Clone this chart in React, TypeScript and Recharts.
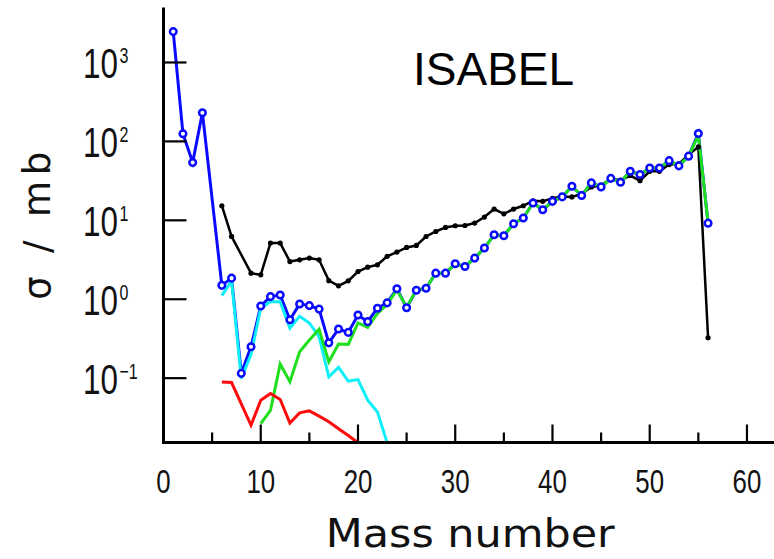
import React from "react";
import { LineChart, Line, XAxis, YAxis } from "recharts";

// mass number / cross section (mb)
const totalA = [1, 2, 3, 4, 6, 7, 8, 9, 10, 11, 12, 13, 14, 15, 16, 17, 18, 19, 20, 21, 22, 23, 24, 25, 26, 27, 28, 29, 30, 31, 32, 33, 34, 35, 36, 37, 38, 39, 40, 41, 42, 43, 44, 45, 46, 47, 48, 49, 50, 51, 52, 53, 54, 55, 56];
const totalV = [2460, 125, 54, 231, 1.5, 1.85, 0.115, 0.25, 0.82, 1.08, 1.13, 0.55, 0.87, 0.83, 0.75, 0.28, 0.42, 0.38, 0.63, 0.52, 0.77, 0.9, 1.36, 0.78, 1.3, 1.38, 2.14, 2.14, 2.81, 2.6, 3.32, 4.45, 6.56, 6.37, 9.05, 10.7, 16.6, 13.6, 17.4, 19.8, 27, 20.6, 29.8, 26.5, 34, 30.3, 41.9, 38, 46, 46, 57, 49, 65, 126, 9.2];

const expA = [6, 7, 9, 10, 11, 12, 13, 14, 15, 16, 17, 18, 19, 20, 21, 22, 23, 24, 25, 26, 27, 28, 29, 30, 31, 32, 33, 34, 35, 36, 37, 38, 39, 40, 41, 42, 43, 44, 45, 46, 47, 48, 49, 50, 51, 52, 53, 54, 55, 56];
const expV = [15.3, 6.25, 2.14, 2.04, 5.15, 5.15, 3.0, 3.16, 3.32, 3.16, 1.72, 1.48, 1.71, 2.24, 2.55, 2.73, 3.5, 3.96, 4.53, 4.8, 6.24, 7.22, 8.13, 8.53, 8.6, 9.24, 11.0, 13.9, 12.1, 13.9, 15.3, 17.7, 17.4, 19.0, 20.1, 19.8, 21.6, 26.5, 27.5, 33.5, 32.3, 36.9, 31.8, 41.8, 41.8, 50.9, 52, 68, 85, 0.325];

const greenA = [10, 11, 12, 13, 14, 15, 16, 17, 18, 19, 20, 21, 22, 23, 24, 25, 26, 27, 28, 29, 30, 31, 32, 33, 34, 35, 36, 37, 38, 39, 40, 41, 42, 43, 44, 45, 46, 47, 48, 49, 50, 51, 52, 53, 54, 55, 56];
const greenV = [0.0266, 0.039, 0.151, 0.09, 0.216, 0.304, 0.416, 0.161, 0.27, 0.268, 0.5, 0.44, 0.66, 0.86, 1.31, 0.8, 1.3, 1.38, 2.14, 2.14, 2.81, 2.6, 3.32, 4.45, 6.56, 6.37, 9.05, 10.7, 16.6, 13.6, 17.4, 19.8, 27, 20.6, 29.8, 26.5, 34, 30.3, 41.9, 38, 46, 46, 57, 49, 65, 120, 9.2];

const cyanA = [6, 7, 8, 9, 10, 11, 12, 13, 14, 15, 16, 17, 18, 19, 20, 21, 22, 23];
const cyanV = [1.11, 1.71, 0.099, 0.2, 0.77, 0.93, 0.93, 0.43, 0.61, 0.5, 0.335, 0.104, 0.137, 0.092, 0.096, 0.0525, 0.0373, 0.0152];

const redA = [6, 7, 9, 10, 11, 12, 13, 14, 15, 16, 17, 18, 19, 20];
const redV = [0.0897, 0.088, 0.0253, 0.0525, 0.0638, 0.0537, 0.027, 0.0363, 0.0385, 0.033, 0.028, 0.0229, 0.0188, 0.0152];

const xTicks = [0, 5, 10, 15, 20, 25, 30, 35, 40, 45, 50, 55, 60];
const yTicks = [0.1, 1, 10, 100, 1000];
const yExp = ["\u22121", "0", "1", "2", "3"];

const zip = (a: number[], v: number[]) => a.map((x, i) => ({ a: x, v: v[i] }));
const total = zip(totalA, totalV);
const exp = zip(expA, expV);
const green = zip(greenA, greenV);
const cyan = zip(cyanA, cyanV);
const red = zip(redA, redV);

const FONT = "'Liberation Sans', Arial, sans-serif";

const BottomTick = ({ x, y, payload }: any) => {
  const major = payload.value % 10 === 0;
  return (
    <g>
      <line x1={x} x2={x} y1={y} y2={y - (major ? 18 : 10)} stroke="#000" strokeWidth={2.2} />
      {major && (
        <text transform={`translate(${x},${y + 50.5}) scale(0.76,1)`} textAnchor="middle" fontSize={34} fontFamily={FONT} fill="#111">
          {payload.value}
        </text>
      )}
    </g>
  );
};

const TopTick = ({ x, y, payload }: any) => {
  const major = payload.value % 10 === 0;
  return <line x1={x} x2={x} y1={y} y2={y + (major ? 18 : 10)} stroke="#000" strokeWidth={2.2} />;
};

const LeftTick = ({ x, y, payload }: any) => {
  const i = yTicks.indexOf(payload.value);
  return (
    <g>
      <line x1={x} x2={x + 23} y1={y} y2={y} stroke="#000" strokeWidth={2.2} />
      <g transform={`translate(${x - 80.5},${y + 15.5}) scale(0.73,1)`} fontFamily={FONT} fill="#111">
        <text x={0} y={0} fontSize={43}>10</text>
        <text x={50} y={-15} fontSize={22}>{yExp[i]}</text>
      </g>
    </g>
  );
};

const RightTick = ({ x, y }: any) => (
  <line x1={x} x2={x - 23} y1={y} y2={y} stroke="#000" strokeWidth={2.2} />
);

const XTitle = ({ viewBox }: any) => (
  <text transform={`translate(${viewBox.x + viewBox.width / 2 - 2},${viewBox.y + 104.5}) scale(1.1,1)`}
    textAnchor="middle" fontSize={39} fontFamily="'DejaVu Sans', sans-serif" fill="#111">
    Mass number
  </text>
);

const YTitle = ({ viewBox }: any) => {
  const cy = viewBox.y + viewBox.height / 2;
  return (
    <text transform={`translate(50,${cy}) rotate(-90)`} textAnchor="middle" fontSize={37}
      fontFamily="'DejaVu Sans', sans-serif" textLength={148} lengthAdjust="spacing" fill="#111">
      σ / mb
    </text>
  );
};

const axisLine = { stroke: "#000", strokeWidth: 3, strokeLinecap: "square" as const };

export default function App() {
  return (
    <div style={{ position: "absolute", left: 0, top: 0, width: 774, height: 559, overflow: "hidden", background: "#fff" }}>
      <LineChart width={800} height={559} margin={{ top: 9, right: 19, bottom: 0, left: 0 }}>
        <XAxis xAxisId="b" dataKey="a" type="number" domain={[0, 63.5]} allowDataOverflow ticks={xTicks} interval={0}
          height={116.5} tickSize={0} tickMargin={0} tickLine={false} axisLine={axisLine} tick={<BottomTick />}
          label={<XTitle />} />
        <XAxis xAxisId="t" orientation="top" dataKey="a" type="number" domain={[0, 63.5]} allowDataOverflow ticks={xTicks}
          interval={0} height={0} tickSize={0} tickMargin={0} tickLine={false} axisLine={axisLine} tick={<TopTick />} />
        <YAxis yAxisId="l" dataKey="v" type="number" scale="log" domain={[0.0153, 4760]} allowDataOverflow ticks={yTicks}
          interval={0} width={163.5} tickSize={0} tickMargin={0} tickLine={false} axisLine={axisLine} tick={<LeftTick />}
          label={<YTitle />} />
        <YAxis yAxisId="r" orientation="right" dataKey="v" type="number" scale="log" domain={[0.0153, 4760]} allowDataOverflow
          ticks={yTicks} interval={0} width={0} tickSize={0} tickMargin={0} tickLine={false} axisLine={axisLine} tick={<RightTick />} />

        <Line xAxisId="b" yAxisId="l" data={exp} dataKey="v" stroke="#000" strokeWidth={2.5}
          dot={{ r: 2.6, fill: "#000", stroke: "none" }} isAnimationActive={false} />
        <Line xAxisId="b" yAxisId="l" data={total} dataKey="v" stroke="#0a0aff" strokeWidth={3}
          dot={{ r: 3.3, fill: "#fff", stroke: "#0a0aff", strokeWidth: 2.5 }} isAnimationActive={false} />
        <Line xAxisId="b" yAxisId="l" data={cyan} dataKey="v" stroke="#10eef8" strokeWidth={3} dot={false} isAnimationActive={false} />
        <Line xAxisId="b" yAxisId="l" data={green} dataKey="v" stroke="#1ee01e" strokeWidth={3} dot={false} isAnimationActive={false} />
        <Line xAxisId="b" yAxisId="l" data={red} dataKey="v" stroke="#ff0a0a" strokeWidth={3} dot={false} isAnimationActive={false} />
      </LineChart>
      <svg width={774} height={559} style={{ position: "absolute", left: 0, top: 0, pointerEvents: "none" }}>
        <text x={413} y={85} fontSize={46} fontFamily={FONT} fill="#000">ISABEL</text>
      </svg>
    </div>
  );
}
